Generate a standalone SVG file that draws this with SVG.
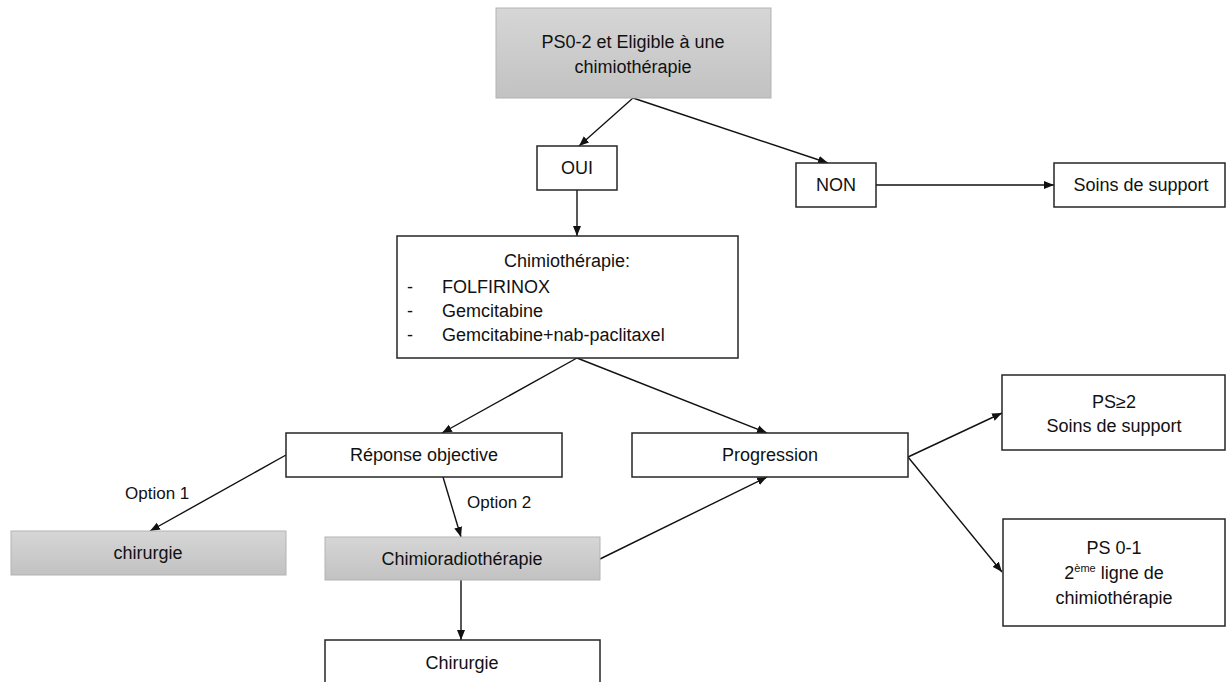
<svg xmlns="http://www.w3.org/2000/svg" width="1226" height="682" viewBox="0 0 1226 682">
<style>
.box{fill:#fff;stroke:#262626;stroke-width:1.5}
.gbox{fill:url(#g);stroke:#b3b3b3;stroke-width:1}
.t{font-family:"Liberation Sans",Arial,sans-serif;font-size:18px;fill:#111;text-anchor:middle}
.tl{font-family:"Liberation Sans",Arial,sans-serif;font-size:18px;fill:#111}
.o{font-family:"Liberation Sans",Arial,sans-serif;font-size:17px;fill:#111}
.c{stroke:#111;stroke-width:1.4;fill:none;marker-end:url(#a)}
</style>
<defs>
<linearGradient id="g" x1="0" y1="0" x2="0" y2="1">
<stop offset="0" stop-color="#d6d6d6"/>
<stop offset="1" stop-color="#c2c2c2"/>
</linearGradient>
<marker id="a" viewBox="0 0 10 10" refX="10" refY="5" markerWidth="10" markerHeight="10" markerUnits="userSpaceOnUse" orient="auto">
<path d="M0,1 L10,5 L0,9 Z" fill="#111"/>
</marker>
</defs>
<rect width="1226" height="682" fill="#fff"/>
<g id="connectors">
<line class="c" x1="633" y1="98" x2="579" y2="146"/>
<line class="c" x1="633" y1="98" x2="828" y2="163"/>
<line class="c" x1="876" y1="185" x2="1054" y2="185"/>
<line class="c" x1="577" y1="190" x2="577" y2="236"/>
<line class="c" x1="577" y1="358" x2="442" y2="433"/>
<line class="c" x1="577" y1="358" x2="767" y2="433"/>
<line class="c" x1="286" y1="455" x2="150" y2="531"/>
<line class="c" x1="443" y1="477" x2="461" y2="537"/>
<line class="c" x1="461" y1="580" x2="461" y2="640"/>
<line class="c" x1="600" y1="559" x2="767" y2="477"/>
<line class="c" x1="908" y1="457" x2="1002" y2="413"/>
<line class="c" x1="908" y1="457" x2="1002" y2="572"/>
<text class="o" x="125" y="499">Option 1</text>
<text class="o" x="467" y="508">Option 2</text>
</g>
<g id="n-top">
<rect class="gbox" x="496" y="8" width="275" height="90"/>
<text class="t" x="633" y="48">PS0-2 et Eligible à une</text>
<text class="t" x="633" y="73">chimiothérapie</text>
</g>
<g id="n-oui">
<rect class="box" x="537" y="146" width="80" height="44"/>
<text class="t" x="577" y="174">OUI</text>
</g>
<g id="n-non">
<rect class="box" x="796" y="163" width="80" height="44"/>
<text class="t" x="836" y="191">NON</text>
</g>
<g id="n-soins">
<rect class="box" x="1054" y="163" width="171" height="44"/>
<text class="t" x="1141" y="191">Soins de support</text>
</g>
<g id="n-chimio">
<rect class="box" x="397" y="236" width="341" height="122"/>
<text class="t" x="567" y="267">Chimiothérapie:</text>
<text class="tl" x="407" y="293">-</text>
<text class="tl" x="442" y="293">FOLFIRINOX</text>
<text class="tl" x="407" y="317">-</text>
<text class="tl" x="442" y="317">Gemcitabine</text>
<text class="tl" x="407" y="341">-</text>
<text class="tl" x="442" y="341">Gemcitabine+nab-paclitaxel</text>
</g>
<g id="n-reponse">
<rect class="box" x="286" y="433" width="276" height="44"/>
<text class="t" x="424" y="461">Réponse objective</text>
</g>
<g id="n-progression">
<rect class="box" x="632" y="433" width="276" height="44"/>
<text class="t" x="770" y="461">Progression</text>
</g>
<g id="n-ps2">
<rect class="box" x="1002" y="375" width="223" height="75"/>
<text class="t" x="1114" y="408">PS≥2</text>
<text class="t" x="1114" y="432">Soins de support</text>
</g>
<g id="n-ps01">
<rect class="box" x="1003" y="519" width="222" height="107"/>
<text class="t" x="1114" y="554">PS 0-1</text>
<text class="t" x="1114" y="579">2<tspan font-size="11" dy="-7">ème</tspan><tspan dy="7"> ligne de</tspan></text>
<text class="t" x="1114" y="604">chimiothérapie</text>
</g>
<g id="n-chirurgie1">
<rect class="gbox" x="11" y="531" width="275" height="44"/>
<text class="t" x="148" y="559">chirurgie</text>
</g>
<g id="n-chimioradio">
<rect class="gbox" x="325" y="537" width="275" height="43"/>
<text class="t" x="462" y="565">Chimioradiothérapie</text>
</g>
<g id="n-chirurgie2">
<rect class="box" x="325" y="640" width="275" height="50"/>
<text class="t" x="462" y="669">Chirurgie</text>
</g>
</svg>
